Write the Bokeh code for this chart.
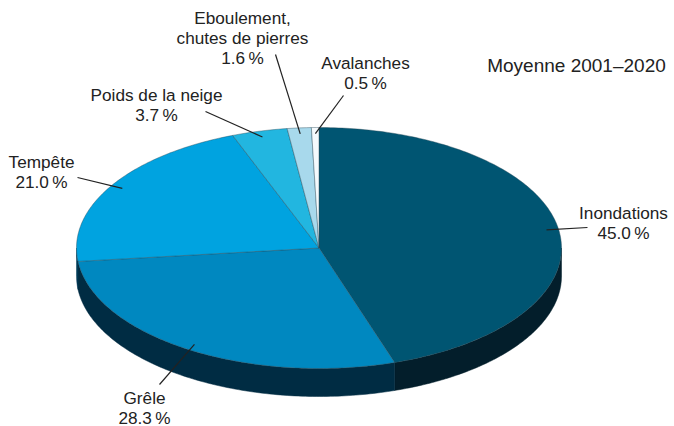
import numpy as np
from bokeh.plotting import figure
from bokeh.models import Range1d
from bokeh.core.properties import value
from bokeh.embed import file_html
from bokeh.resources import INLINE

# ---- data ----
categories = ["Inondations", "Grêle", "Tempête", "Poids de la neige",
              "Eboulement,\nchutes de pierres", "Avalanches"]
shares = [45.0, 28.3, 21.0, 3.7, 1.6, 0.5]
title_text = "Moyenne 2001\u20132020"

# ---- style ----
top_colors = ["#005572", "#0088c0", "#00a3e0", "#22b6e0", "#a8d9ec", "#f4fafd"]
side_colors = ["#031e2b", "#002c43", "#003b57", "#0a4a66", "#3a6a80", "#8aa4b0"]
FONT = "Liberation Sans"

# ---- layout (pixel space, y downwards) ----
cx, cy, rx, ry, depth = 318.5, 247.5, 242.5, 120.5, 28.0
# label: (center x, y of first line, leader end x, leader end y)
label_layout = [
    (623, 212, 587, 227),
    (144, 397, 159, 384),
    (41, 161, 77, 177),
    (156, 94, 205, 111),
    (242, 17, 275, 54),
    (365, 62, 343, 95),
]

def pt(theta, r=1.0, dz=0.0):
    return cx + r * rx * np.sin(theta), cy - r * ry * np.cos(theta) + dz

p = figure(width=674, height=426, output_backend="svg", toolbar_location=None,
           x_range=Range1d(0, 674), y_range=Range1d(426, 0), min_border=0)
p.axis.visible = False
p.grid.visible = False
p.outline_line_color = None
p.background_fill_color = "white"
p.border_fill_color = "white"

total = sum(shares)
fr = np.array(shares) / total
ends = np.cumsum(fr) * 2 * np.pi
starts = ends - fr * 2 * np.pi

# sides (front half only)
sxs, sys_, scol = [], [], []
for a0, a1, c in zip(starts, ends, side_colors):
    b0, b1 = max(a0, np.pi / 2), min(a1, 3 * np.pi / 2)
    if b1 <= b0:
        continue
    t = np.linspace(b0, b1, 120)
    xt, yt = pt(t)
    xb, yb = pt(t[::-1], dz=depth)
    sxs.append(list(np.concatenate([xt, xb])))
    sys_.append(list(np.concatenate([yt, yb])))
    scol.append(c)
p.patches(sxs, sys_, fill_color=scol, line_color=scol, line_width=0.5)

# top faces
txs, tys = [], []
for a0, a1 in zip(starts, ends):
    t = np.linspace(a0, a1, max(4, int(400 * (a1 - a0) / (2 * np.pi))))
    xt, yt = pt(t)
    txs.append([cx] + list(xt))
    tys.append([cy] + list(yt))
p.patches(txs, tys, fill_color=top_colors, line_color="#2a4a5a",
          line_width=0.6, line_alpha=0.7)

# leader lines and labels
for i, (cat, v) in enumerate(zip(categories, shares)):
    mid = (starts[i] + ends[i]) / 2
    x0, y0 = pt(mid, r=0.95)
    lx, ly, ex, ey = label_layout[i]
    p.line([x0, ex], [y0, ey], line_color="#222222", line_width=1.2)
    lines = cat.split("\n") + [f"{v:.1f}\u2009%"]
    p.text(x=[lx] * len(lines), y=[ly + 20 * k for k in range(len(lines))],
           text=lines, text_font=value(FONT), text_font_size="17.2px",
           text_align="center", text_baseline="middle", text_color="#222222")

p.text(x=[576], y=[65], text=[title_text], text_font=value(FONT),
       text_font_size="19px", text_align="center", text_baseline="middle",
       text_color="#222222")

open("out.html", "w").write(file_html(p, INLINE))
